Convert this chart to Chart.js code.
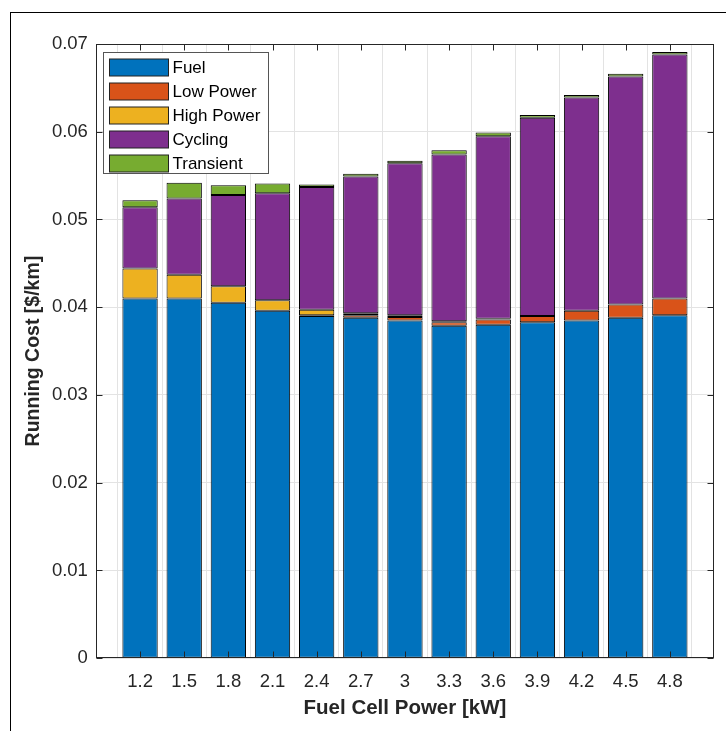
<!DOCTYPE html>
<html>
<head>
<meta charset="utf-8">
<title>Running cost vs fuel cell power</title>
<script src="https://cdn.jsdelivr.net/npm/chart.js"></script>
<style>
  html, body { margin: 0; padding: 0; background: #fff; }
  #wrap { position: relative; width: 726px; height: 731px; overflow: hidden; }
  #frame { position: absolute; left: 10px; top: 12px; width: 760px; height: 760px; border: 1px solid #000; }
  #chart { position: absolute; left: 0; top: 0; }
</style>
</head>
<body>
<div id="wrap">
  <div id="frame"></div>
  <canvas id="chart" width="726" height="731"></canvas>
</div>
<script>
// fuel cell power categories [kW]
const powers = [1.2, 1.5, 1.8, 2.1, 2.4, 2.7, 3.0, 3.3, 3.6, 3.9, 4.2, 4.5, 4.8];

// running cost parts [$/km], stacked in this order
const fuel      = [0.0410, 0.0410, 0.0405, 0.0396, 0.0390, 0.0388, 0.0385, 0.0379, 0.0380, 0.0383, 0.0385, 0.0388, 0.0391];
const lowPower  = [0, 0, 0, 0, 0.0001, 0.0003, 0.0004, 0.0004, 0.0006, 0.0007, 0.0011, 0.0015, 0.0019];
const highPower = [0.0034, 0.0027, 0.0019, 0.0012, 0.0006, 0.0002, 0.0002, 0.0001, 0.0001, 0, 0, 0, 0];
const cycling   = [0.0070, 0.0087, 0.0104, 0.0122, 0.0140, 0.0156, 0.0173, 0.0190, 0.0208, 0.0226, 0.0243, 0.0260, 0.0278];
const transient = [0.0008, 0.0018, 0.0011, 0.0011, 0.0003, 0.0003, 0.0003, 0.0005, 0.0004, 0.0003, 0.0003, 0.0003, 0.0003];

const yTicks = [0, 0.01, 0.02, 0.03, 0.04, 0.05, 0.06, 0.07];

const FONT = '"Liberation Sans", Arial, Helvetica, sans-serif';
const TXT = '#262626';

function series(label, values, color) {
  return {
    label: label,
    data: values.map((v, i) => ({ x: powers[i], y: v })),
    backgroundColor: color,
    borderColor: '#000',
    borderWidth: 1,
    borderSkipped: false,
    barPercentage: 0.8,
    categoryPercentage: 1.0
  };
}

// box round the axes, inward ticks, legend inside the plot
const axesBox = {
  id: 'axesBox',
  afterDatasetsDraw(chart) {
    const { ctx, chartArea: a, scales } = chart;
    const L = Math.round(a.left) + 0.5, R = Math.round(a.right) - 0.5;
    const T = Math.round(a.top) + 0.5, B = Math.round(a.bottom) - 0.5;
    ctx.save();
    ctx.strokeStyle = TXT;
    ctx.lineWidth = 1;
    ctx.beginPath();
    scales.x.ticks.forEach(t => {
      const px = Math.round(scales.x.getPixelForValue(t.value)) + 0.5;
      ctx.moveTo(px, B); ctx.lineTo(px, B - 6);
      ctx.moveTo(px, T); ctx.lineTo(px, T + 6);
    });
    scales.y.ticks.forEach(t => {
      const py = Math.round(scales.y.getPixelForValue(t.value)) + 0.5;
      ctx.moveTo(L, py); ctx.lineTo(L + 6, py);
      ctx.moveTo(R, py); ctx.lineTo(R - 6, py);
    });
    ctx.stroke();
    ctx.strokeRect(L, T, R - L, B - T);

    // legend
    const lx = L + 7, ly = T + 8, lw = 165, lh = 121;
    ctx.fillStyle = '#fff';
    ctx.fillRect(lx, ly, lw, lh);
    ctx.strokeStyle = '#555';
    ctx.strokeRect(lx, ly, lw, lh);
    ctx.font = '17px ' + FONT;
    ctx.textBaseline = 'middle';
    chart.data.datasets.forEach((ds, i) => {
      const cy = ly + 14.5 + 24 * i;
      ctx.fillStyle = ds.backgroundColor;
      ctx.fillRect(lx + 6, Math.round(cy - 8.5), 59, 17);
      ctx.strokeStyle = '#222';
      ctx.strokeRect(lx + 6, Math.round(cy - 8.5), 59, 17);
      ctx.fillStyle = '#000';
      ctx.fillText(ds.label, lx + 69, cy + 1);
    });
    ctx.restore();
  }
};

new Chart(document.getElementById('chart'), {
  type: 'bar',
  data: {
    datasets: [
      series('Fuel', fuel, '#0072BD'),
      series('Low Power', lowPower, '#D95319'),
      series('High Power', highPower, '#EDB120'),
      series('Cycling', cycling, '#7E2F8E'),
      series('Transient', transient, '#77AC30')
    ]
  },
  options: {
    responsive: false,
    devicePixelRatio: 1,
    animation: false,
    layout: { padding: { left: 22, top: 44, right: 12, bottom: 10 } },
    plugins: { legend: { display: false }, tooltip: { enabled: false } },
    scales: {
      x: {
        type: 'linear',
        stacked: true,
        min: 0.9,
        max: 5.1,
        offset: false,
        afterBuildTicks: axis => { axis.ticks = powers.map(v => ({ value: v })); },
        grid: { color: '#e3e3e3', drawTicks: false },
        border: { display: false },
        ticks: {
          padding: 13,
          color: TXT,
          font: { family: FONT, size: 18.5 },
          maxRotation: 0,
          autoSkip: false,
          callback: v => String(Math.round(v * 10) / 10)
        },
        title: {
          display: true,
          text: 'Fuel Cell Power [kW]',
          color: TXT,
          font: { family: FONT, size: 20.5, weight: 'bold' },
          padding: { top: -10, bottom: 0 }
        }
      },
      y: {
        stacked: true,
        min: 0,
        max: 0.07,
        afterBuildTicks: axis => { axis.ticks = yTicks.map(v => ({ value: v })); },
        grid: { color: '#e3e3e3', drawTicks: false },
        border: { display: false },
        ticks: {
          padding: 8,
          color: TXT,
          font: { family: FONT, size: 18.5 },
          callback: v => (v === 0 ? '0' : v.toFixed(2))
        },
        title: {
          display: true,
          text: 'Running Cost [$/km]',
          color: TXT,
          font: { family: FONT, size: 19.5, weight: 'bold' },
          padding: { top: 0, bottom: -1.5 }
        }
      }
    }
  },
  plugins: [axesBox]
});
</script>
</body>
</html>
